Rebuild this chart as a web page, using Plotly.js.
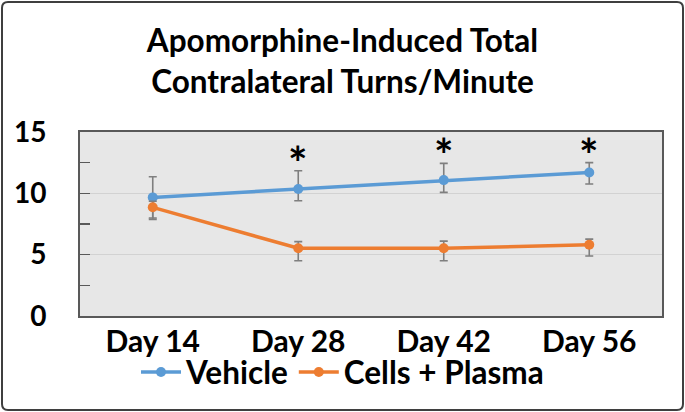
<!DOCTYPE html>
<html>
<head>
<meta charset="utf-8">
<script src="https://cdn.plot.ly/plotly-3.0.1.min.js"></script>
<style>
html,body{margin:0;padding:0;background:#fff;}
#chart{width:685px;height:412px;}
</style>
</head>
<body>
<div id="chart"></div>
<script>
// ---- data ----
const days = ["Day 14", "Day 28", "Day 42", "Day 56"];
const vehicle = [9.67, 10.35, 11.08, 11.7];
const vehicleErrPlus = [1.68, 1.49, 1.36, 0.8];
const vehicleErrMinus = [1.68, 0.95, 1.0, 0.94];
const cells = [8.86, 5.52, 5.52, 5.81];
const cellsErrPlus = [0.5, 0.54, 0.58, 0.46];
const cellsErrMinus = [0.98, 1.02, 1.02, 0.92];
const sigDays = ["Day 28", "Day 42", "Day 56"];
const yTickVals = [0, 5, 10, 15];
const yTickText = ["0", "5", "10", "15"];

// ---- layout constants ----
const W = 685, H = 412;
const M = {l: 80, r: 23, t: 132, b: 96};
const FONT = "Lato, 'Open Sans', sans-serif";
const pw = W - M.l - M.r, ph = H - M.t - M.b;
const px2x = p => (p - M.l) / pw;
const py2y = p => (H - M.b - p) / ph;

function roundedPath(x0, y0, x1, y1, r) {
  const X = px2x, Y = py2y;
  return `M ${X(x0 + r)} ${Y(y0)} L ${X(x1 - r)} ${Y(y0)} Q ${X(x1)} ${Y(y0)} ${X(x1)} ${Y(y0 + r)} ` +
         `L ${X(x1)} ${Y(y1 - r)} Q ${X(x1)} ${Y(y1)} ${X(x1 - r)} ${Y(y1)} ` +
         `L ${X(x0 + r)} ${Y(y1)} Q ${X(x0)} ${Y(y1)} ${X(x0)} ${Y(y1 - r)} ` +
         `L ${X(x0)} ${Y(y0 + r)} Q ${X(x0)} ${Y(y0)} ${X(x0 + r)} ${Y(y0)} Z`;
}

const errStyle = {color: "#7f7f7f", thickness: 1.6, width: 4};

const traces = [
  {
    type: "scatter", mode: "lines+markers", name: "Vehicle",
    x: days, y: vehicle,
    line: {color: "#5b9bd5", width: 3.5},
    marker: {color: "#5b9bd5", size: 10},
    error_y: Object.assign({type: "data", symmetric: false, array: vehicleErrPlus, arrayminus: vehicleErrMinus}, errStyle)
  },
  {
    type: "scatter", mode: "lines+markers", name: "Cells + Plasma",
    x: days, y: cells,
    line: {color: "#ed7d31", width: 3.5},
    marker: {color: "#ed7d31", size: 10},
    error_y: Object.assign({type: "data", symmetric: false, array: cellsErrPlus, arrayminus: cellsErrMinus}, errStyle)
  }
];

const annotations = sigDays.map(d => {
  const i = days.indexOf(d);
  return {
    x: d, y: vehicle[i] + vehicleErrPlus[i], xref: "x", yref: "y",
    text: "*", showarrow: false, yanchor: "bottom", yshift: -21,
    font: {family: FONT, size: 46, color: "#000", weight: "bold"}
  };
});

const layout = {
  width: W, height: H,
  margin: M,
  paper_bgcolor: "#ffffff",
  plot_bgcolor: "#e7e7e7",
  showlegend: true,
  title: {
    text: "Apomorphine-Induced Total<br>Contralateral Turns/Minute",
    x: 0.5, xref: "container", xanchor: "center",
    y: 1 - 52 / H, yref: "container", yanchor: "middle",
    font: {family: FONT, size: 31.5, color: "#000", weight: "bold"}
  },
  xaxis: {
    type: "category",
    range: [-0.5, 3.5],
    showgrid: false,
    showline: true, mirror: true, linecolor: "#595959", linewidth: 2,
    ticks: "", ticklabelstandoff: -2,
    tickfont: {family: FONT, size: 30, color: "#000", weight: "bold"},
    fixedrange: true
  },
  yaxis: {
    range: [0, 15],
    tickvals: yTickVals, ticktext: yTickText,
    showgrid: true, gridcolor: "#d2d2d2", gridwidth: 1.2,
    zeroline: false,
    showline: true, mirror: true, linecolor: "#595959", linewidth: 2,
    ticks: "inside", ticklen: 10, tickcolor: "#595959", tickwidth: 1.5,
    minor: {dtick: 2.5, tick0: 0, ticks: "inside", ticklen: 10, tickcolor: "#595959", tickwidth: 1.5, showgrid: false},
    ticklabelstandoff: 26,
    tickfont: {family: FONT, size: 28, color: "#000", weight: "bold"},
    fixedrange: true
  },
  legend: {
    orientation: "h",
    x: 0.5, xref: "container", xanchor: "center",
    y: 1 - 372 / H, yref: "container", yanchor: "middle",
    font: {family: FONT, size: 31.5, color: "#000", weight: "bold"},
    itemwidth: 40, tracegroupgap: 0,
    bgcolor: "rgba(0,0,0,0)"
  },
  annotations: annotations,
  shapes: [
    {
      type: "path", xref: "paper", yref: "paper", layer: "above",
      path: roundedPath(2, 2, W - 2, H - 2, 6),
      line: {color: "#3f3f3f", width: 2}, fillcolor: "rgba(0,0,0,0)"
    }
  ]
};

Plotly.newPlot("chart", traces, layout, {displayModeBar: false, staticPlot: true});
</script>
</body>
</html>
